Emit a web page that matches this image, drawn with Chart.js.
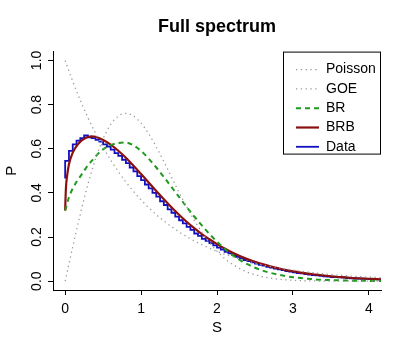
<!DOCTYPE html>
<html>
<head>
<meta charset="utf-8">
<script src="https://cdn.jsdelivr.net/npm/chart.js@4.4.1/dist/chart.umd.min.js"></script>
<style>
  html, body { margin: 0; padding: 0; background: #fff; }
  canvas { display: block; }
</style>
</head>
<body>
<canvas id="chart" width="409" height="357"></canvas>
<script>
// spacing grid for the reference curves
const sCoarse = [0, 0.1, 0.2, 0.3, 0.4, 0.5, 0.6, 0.7, 0.8, 0.9, 1.0, 1.1, 1.2, 1.3, 1.4,
  1.5, 1.6, 1.7, 1.8, 1.9, 2.0, 2.1, 2.2, 2.3, 2.4, 2.5, 2.6, 2.7, 2.8, 2.9, 3.0, 3.1,
  3.2, 3.3, 3.4, 3.5, 3.6, 3.7, 3.8, 3.9, 4.0, 4.1, 4.2];
const sFine = [0, 0.01, 0.025, 0.05, 0.1, 0.15, 0.2, 0.25, 0.3, 0.35, 0.4, 0.5, 0.6, 0.7,
  0.8, 0.9, 1.0, 1.1, 1.2, 1.3, 1.4, 1.5, 1.6, 1.7, 1.8, 1.9, 2.0, 2.1, 2.2, 2.3, 2.4,
  2.5, 2.6, 2.7, 2.8, 2.9, 3.0, 3.1, 3.2, 3.3, 3.4, 3.5, 3.6, 3.7, 3.8, 3.9, 4.0, 4.1, 4.2];

const poisson = [1.000, 0.905, 0.819, 0.741, 0.670, 0.607, 0.549, 0.497, 0.449, 0.407,
  0.368, 0.333, 0.301, 0.273, 0.247, 0.223, 0.202, 0.183, 0.165, 0.150, 0.135, 0.122,
  0.111, 0.100, 0.091, 0.082, 0.074, 0.067, 0.061, 0.055, 0.050, 0.045, 0.041, 0.037,
  0.033, 0.030, 0.027, 0.025, 0.022, 0.020, 0.018, 0.017, 0.015];
const goe = [0, 0.156, 0.304, 0.439, 0.554, 0.645, 0.710, 0.748, 0.760, 0.748, 0.716,
  0.668, 0.608, 0.542, 0.472, 0.402, 0.337, 0.276, 0.222, 0.175, 0.136, 0.103, 0.077,
  0.057, 0.041, 0.029, 0.020, 0.014, 0.009, 0.006, 0.004, 0.0025, 0.0015, 0.0009,
  0.0005, 0.0003, 0.0002, 0.0001, 0, 0, 0, 0, 0];
const br = [0.32, 0.33, 0.35, 0.38, 0.42, 0.45, 0.475, 0.50, 0.525, 0.545, 0.565,
  0.597, 0.616, 0.626, 0.628, 0.615, 0.59, 0.555, 0.515, 0.472, 0.427, 0.382, 0.336,
  0.293, 0.253, 0.214, 0.179, 0.147, 0.119, 0.096, 0.077, 0.061, 0.048, 0.038, 0.030,
  0.023, 0.018, 0.014, 0.011, 0.008, 0.006, 0.005, 0.004, 0.003, 0.002, 0.002, 0.001,
  0.001, 0.001];
const brb = [0.32, 0.42, 0.475, 0.53, 0.582, 0.612, 0.632, 0.645, 0.653, 0.656, 0.654,
  0.640, 0.619, 0.591, 0.559, 0.523, 0.485, 0.447, 0.409, 0.371, 0.335, 0.301, 0.269,
  0.240, 0.213, 0.190, 0.168, 0.148, 0.130, 0.114, 0.100, 0.088, 0.077, 0.067, 0.059,
  0.051, 0.045, 0.039, 0.034, 0.030, 0.026, 0.022, 0.019, 0.017, 0.014, 0.012, 0.011,
  0.009, 0.008];

// histogram of the spacings, bins of width 0.05 starting at 0
const binWidth = 0.05;
const histData = [0.465, 0.545, 0.590, 0.620, 0.637, 0.648, 0.660, 0.652, 0.648, 0.640,
  0.632, 0.620, 0.610, 0.596, 0.580, 0.568, 0.550, 0.535, 0.515, 0.497,
  0.476, 0.458, 0.438, 0.420, 0.400, 0.383, 0.362, 0.345, 0.325, 0.310,
  0.292, 0.276, 0.262, 0.246, 0.232, 0.216, 0.205, 0.192, 0.183, 0.172,
  0.162, 0.152, 0.143, 0.133, 0.126, 0.118, 0.110, 0.103, 0.096, 0.091,
  0.085, 0.080, 0.074, 0.070, 0.065, 0.061, 0.057, 0.053, 0.050, 0.046,
  0.043, 0.040, 0.037, 0.035, 0.032, 0.030, 0.028, 0.026, 0.024, 0.022,
  0.021, 0.019, 0.018, 0.017, 0.016, 0.014, 0.013, 0.012, 0.012, 0.011,
  0.010, 0.009, 0.009, 0.008];

const xTicks = [0, 1, 2, 3, 4];
const yTicks = [0, 0.2, 0.4, 0.6, 0.8, 1.0];

function toPoints(xs, ys) {
  return xs.map((x, i) => ({ x: x, y: ys[i] }));
}

let histPoints = histData.map((v, i) => ({ x: i * binWidth, y: v }));
histPoints.push({ x: histData.length * binWidth, y: histData[histData.length - 1] });

Chart.defaults.font.family = '"Liberation Sans", Arial, Helvetica, sans-serif';
Chart.defaults.color = '#000';

// R style legend box in the top right corner of the plot
const boxLegend = {
  id: 'boxLegend',
  afterDraw(chart) {
    const ctx = chart.ctx;
    const area = chart.chartArea;
    const w = 98, h = 102;
    const x0 = area.right - w;
    const y0 = area.top;
    ctx.save();
    ctx.strokeStyle = '#000';
    ctx.lineWidth = 1;
    ctx.setLineDash([]);
    ctx.strokeRect(x0 + 0.5, y0 + 0.5, w - 1, h);
    ctx.font = '14px "Liberation Sans", Arial, sans-serif';
    ctx.textBaseline = 'middle';
    ctx.textAlign = 'left';
    chart.data.datasets.forEach((ds, i) => {
      const y = y0 + 18 + i * 19.3;
      ctx.beginPath();
      ctx.strokeStyle = ds.borderColor;
      ctx.lineWidth = ds.borderWidth;
      ctx.setLineDash(ds.borderDash || []);
      ctx.moveTo(x0 + 13, y);
      ctx.lineTo(x0 + 36, y);
      ctx.stroke();
      ctx.setLineDash([]);
      ctx.fillStyle = '#000';
      ctx.fillText(ds.label, x0 + 43, y);
    });
    ctx.restore();
  }
};

const config = {
  type: 'line',
  data: {
    datasets: [
      {
        label: 'Poisson',
        data: toPoints(sCoarse, poisson),
        borderColor: '#9a9a9a',
        borderWidth: 1.3,
        borderDash: [1.3, 3.5],
        cubicInterpolationMode: 'monotone',
        pointRadius: 0,
        order: 0,
      },
      {
        label: 'GOE',
        data: toPoints(sCoarse, goe),
        borderColor: '#9a9a9a',
        borderWidth: 1.3,
        borderDash: [1.3, 3.5],
        cubicInterpolationMode: 'monotone',
        pointRadius: 0,
        order: 1,
      },
      {
        label: 'BR',
        data: toPoints(sFine, br),
        borderColor: '#1f9a1f',
        borderWidth: 2,
        borderDash: [5, 4],
        cubicInterpolationMode: 'monotone',
        pointRadius: 0,
        order: 2,
      },
      {
        label: 'BRB',
        data: toPoints(sFine, brb),
        borderColor: '#8b1010',
        borderWidth: 2.2,
        cubicInterpolationMode: 'monotone',
        pointRadius: 0,
        order: 3,
      },
      {
        label: 'Data',
        data: histPoints,
        borderColor: '#1010c0',
        borderWidth: 1.8,
        stepped: 'after',
        pointRadius: 0,
        order: 4,
      },
    ],
  },
  options: {
    responsive: false,
    animation: false,
    events: [],
    layout: { padding: { left: 0, right: 28, top: 0, bottom: 0 } },
    plugins: {
      legend: { display: false },
      tooltip: { enabled: false },
      title: {
        display: true,
        text: 'Full spectrum',
        fullSize: false,
        color: '#000',
        font: { size: 18, weight: 'bold' },
        padding: { top: 16, bottom: 14 },
      },
    },
    scales: {
      x: {
        type: 'linear',
        min: -0.16,
        max: 4.16,
        afterBuildTicks: s => { s.ticks = xTicks.map(v => ({ value: v })); },
        afterFit: s => { s.height = 67; },
        grid: { drawOnChartArea: false, tickLength: 5, color: '#000', tickColor: '#000' },
        border: { display: true, color: '#000', width: 1 },
        ticks: { font: { size: 14 }, padding: 6, maxRotation: 0, callback: v => String(v) },
        title: { display: true, text: 'S', font: { size: 15 }, padding: { top: 4, bottom: 20 } },
      },
      y: {
        type: 'linear',
        min: -0.04,
        max: 1.04,
        afterBuildTicks: s => { s.ticks = yTicks.map(v => ({ value: v })); },
        afterFit: s => { s.width = 53; },
        grid: { drawOnChartArea: false, tickLength: 5, color: '#000', tickColor: '#000' },
        border: { display: true, color: '#000', width: 1 },
        ticks: {
          font: { size: 14 },
          padding: 1,
          minRotation: 90,
          maxRotation: 90,
          crossAlign: 'center',
          callback: v => v.toFixed(1),
        },
        title: { display: true, text: 'P', font: { size: 15 }, padding: { top: 3, bottom: 0 } },
      },
    },
  },
  plugins: [boxLegend],
};

new Chart(document.getElementById('chart').getContext('2d'), config);
</script>
</body>
</html>
